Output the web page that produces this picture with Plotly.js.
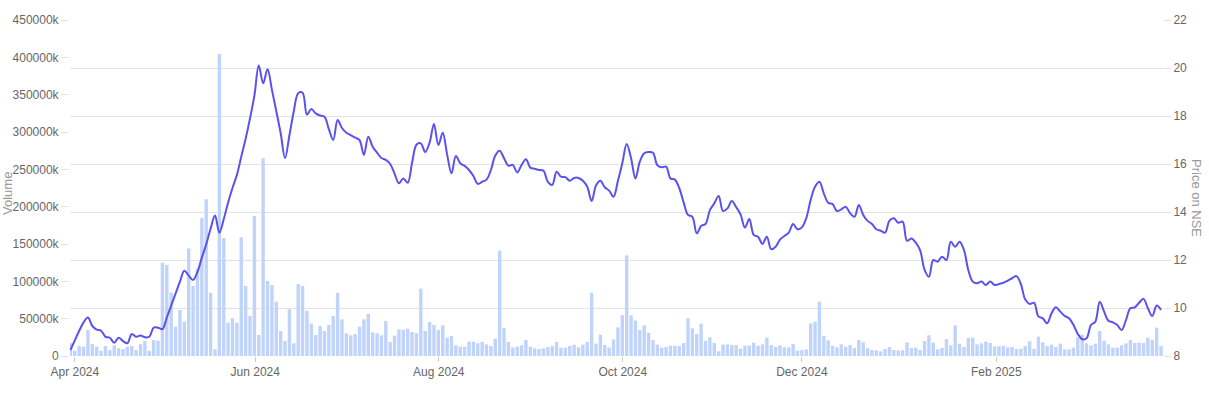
<!DOCTYPE html>
<html><head><meta charset="utf-8">
<script src="https://cdn.plot.ly/plotly-3.0.1.min.js"></script>
<style>html,body{margin:0;padding:0;background:#fff}#chart{width:1209px;height:394px}</style>
</head><body><div id="chart"></div>
<script>
// Daily trading volume (in thousands) – one value per trading day, Mar 28 2024 .. Mar 28 2025
const volumeK = [
17400, 7000, 13400, 12500, 34800, 16000, 12500, 7000, 13400, 8000,
14300, 10300, 9500, 12500, 13400, 8000, 16000, 20000, 7000, 21400,
20500, 125000, 122000, 84800, 39300, 61600, 46000, 144000, 93800, 117000,
185000, 210000, 84800, 9000, 404500, 158000, 44600, 50500, 44600, 159000,
93800, 53600, 187500, 28100, 264700, 100400, 95000, 72700, 33500, 20000,
62500, 17000, 96400, 93800, 60700, 43300, 28100, 40200, 33500, 41500,
53600, 84800, 49100, 30400, 27700, 29500, 39300, 49100, 56300, 31700,
30400, 27700, 46900, 18800, 27200, 35700, 35000, 36600, 32100, 30400,
90200, 33500, 45500, 41500, 35000, 41100, 24600, 26800, 14300, 12500,
12500, 19200, 19200, 17000, 18800, 15600, 13400, 23200, 141000, 37500,
18800, 11600, 12500, 14300, 21400, 12500, 10300, 9400, 10300, 12000,
13400, 18800, 11200, 11200, 13400, 15200, 11600, 15200, 18800, 84800,
16600, 28600, 14700, 11200, 22300, 38400, 54900, 134800, 54500, 47300,
34800, 41100, 31200, 21400, 15200, 11200, 12000, 13800, 13800, 13400,
17400, 50500, 37100, 29500, 43300, 20500, 25000, 17400, 6300, 15200,
15600, 14700, 14700, 9800, 13800, 13800, 17900, 13800, 15600, 24600,
14700, 12500, 14300, 11600, 11600, 16000, 7100, 8000, 8900, 43700,
46000, 72800, 26800, 21000, 13800, 11600, 15600, 12500, 14700, 10700,
21400, 18300, 10300, 8000, 7600, 6300, 9400, 12000, 8000, 7600,
7600, 18300, 10700, 11200, 8000, 20100, 27700, 17900, 8900, 10700,
22800, 14300, 41100, 16500, 12000, 24100, 24600, 15600, 17000, 19200,
17400, 12900, 13000, 13600, 11600, 12000, 9400, 9800, 13400, 19600,
9800, 25900, 18300, 13400, 15200, 12000, 16500, 8900, 8900, 11200,
25000, 28600, 17000, 14300, 16500, 33500, 20500, 15600, 11200, 11200,
14300, 17000, 21400, 17400, 17900, 17400, 24600, 21400, 38000, 13400
];

// Closing price on NSE – one value per trading day
const price = [
8.25, 8.65, 9.05, 9.4, 9.6, 9.25, 9.1, 9.05, 8.8, 8.76,
8.55, 8.76, 8.62, 8.53, 8.92, 8.8, 8.85, 8.78, 8.8, 9.18,
9.18, 9.12, 9.6, 10.1, 10.6, 11.1, 11.55, 11.35, 11.17, 11.5,
12.1, 12.65, 13.3, 13.85, 13.14, 13.7, 14.4, 15.0, 15.54, 16.3,
17.05, 17.9, 18.85, 20.1, 19.36, 19.95, 19.1, 18.2, 17.28, 16.24,
17.2, 18.2, 18.95, 18.97, 18.06, 18.29, 18.11, 18.02, 17.97, 17.45,
17.0, 17.83, 17.5, 17.3, 17.2, 17.1, 17.0, 16.38, 17.14, 16.72,
16.47, 16.25, 16.17, 16.0, 15.6, 15.2, 15.4, 15.22, 16.05, 16.8,
16.86, 16.5, 16.89, 17.67, 16.79, 17.3, 16.4, 15.61, 16.33, 16.03,
15.92, 15.75, 15.5, 15.17, 15.26, 15.35, 15.75, 16.35, 16.55, 16.24,
15.93, 15.96, 15.65, 15.96, 16.2, 15.85, 15.8, 15.75, 15.72, 15.26,
15.13, 15.68, 15.47, 15.45, 15.3, 15.42, 15.42, 15.3, 15.05, 14.46,
15.1, 15.3, 15.03, 14.89, 14.64, 15.3, 16.03, 16.83, 16.24, 15.4,
16.1, 16.45, 16.5, 16.47, 15.95, 15.86, 15.89, 15.4, 15.35, 15.0,
14.4, 13.88, 13.8, 13.11, 13.42, 13.5, 14.08, 14.36, 14.67, 14.04,
14.15, 14.46, 14.2, 13.9, 13.35, 13.71, 13.05, 12.97, 12.67, 12.97,
12.45, 12.55, 12.85, 13.0, 13.14, 13.5, 13.28, 13.36, 13.74, 14.5,
15.05, 15.26, 14.78, 14.39, 14.33, 14.04, 14.11, 14.22, 13.95, 13.8,
14.29, 13.88, 13.63, 13.5, 13.28, 13.22, 13.14, 13.64, 13.74, 13.55,
13.6, 12.8, 12.9, 12.72, 12.4, 11.6, 11.3, 12.0, 11.93, 12.14,
12.0, 12.76, 12.55, 12.76, 12.42, 11.58, 11.1, 11.03, 11.1, 10.96,
11.1, 10.96, 11.0, 11.05, 11.14, 11.24, 11.33, 11.0, 10.35, 10.17,
10.22, 9.65, 9.57, 9.36, 9.78, 10.03, 9.85, 9.67, 9.57, 9.3,
8.92, 8.7, 8.74, 9.29, 9.43, 10.26, 9.85, 9.47, 9.4, 9.29,
9.08, 9.5, 9.99, 10.03, 10.22, 10.38, 9.99, 9.67, 10.1, 9.92
];

// X-axis month labels and the trading-day position where each month begins
const monthLabels = ["Apr 2024", "Jun 2024", "Aug 2024", "Oct 2024", "Dec 2024", "Feb 2025"];
const monthTickIndex = [1, 42.2, 84.1, 126.1, 167, 211.4];

// Volume axis ticks
const volumeTicks = [0, 50000, 100000, 150000, 200000, 250000, 300000, 350000, 400000, 450000];
const volumeTickText = volumeTicks.map(v => v === 0 ? "0" : v + "k");

const dayIndex = volumeK.map((_, i) => i);

const FONT = "Liberation Sans, Arial, Helvetica, sans-serif";
const GRID = "#e3e3e3";

const traces = [
  {
    type: "bar",
    x: dayIndex,
    y: volumeK,
    yaxis: "y",
    marker: { color: "#c0d4fb", line: { width: 0 } },
    hoverinfo: "skip",
    name: "Volume"
  },
  {
    type: "scatter",
    mode: "lines",
    x: dayIndex,
    y: price,
    yaxis: "y2",
    line: { color: "#5a52ee", width: 2, shape: "spline", smoothing: 1 },
    hoverinfo: "skip",
    name: "Price on NSE"
  }
];

const layout = {
  width: 1209,
  height: 394,
  margin: { l: 70, r: 46, t: 20, b: 38, pad: 0 },
  paper_bgcolor: "#ffffff",
  plot_bgcolor: "#ffffff",
  showlegend: false,
  bargap: 0.22,
  font: { family: FONT, size: 12, color: "#666666" },
  xaxis: {
    range: [-0.1, 249.45],
    tickmode: "array",
    tickvals: monthTickIndex,
    ticktext: monthLabels,
    ticks: "outside",
    ticklen: 5,
    tickcolor: "#cccccc",
    showgrid: false,
    zeroline: false,
    showline: false,
    tickfont: { family: FONT, size: 12, color: "#666666" }
  },
  yaxis: {
    range: [0, 450000],
    tickmode: "array",
    tickvals: volumeTicks,
    ticktext: volumeTickText,
    showgrid: false,
    zeroline: false,
    showline: false,
    ticks: "outside",
    ticklen: 8,
    tickcolor: GRID,
    tickfont: { family: FONT, size: 12, color: "#666666" }
  },
  yaxis2: {
    overlaying: "y",
    side: "right",
    range: [8, 22],
    dtick: 2,
    tick0: 8,
    showgrid: true,
    gridcolor: GRID,
    gridwidth: 1,
    zeroline: false,
    showline: false,
    ticks: "outside",
    ticklen: 7,
    tickcolor: GRID,
    tickfont: { family: FONT, size: 12, color: "#666666" }
  },
  annotations: [
    {
      text: "Volume",
      xref: "paper", yref: "paper",
      x: (8 - 70) / 1093, y: (356 - 194) / 336,
      xanchor: "center", yanchor: "middle",
      textangle: -90, showarrow: false,
      font: { family: FONT, size: 13, color: "#999999" }
    },
    {
      text: "Price on NSE",
      xref: "paper", yref: "paper",
      x: (1197 - 70) / 1093, y: (356 - 198) / 336,
      xanchor: "center", yanchor: "middle",
      textangle: 90, showarrow: false,
      font: { family: FONT, size: 13, color: "#999999" }
    }
  ]
};

Plotly.newPlot("chart", traces, layout, { displayModeBar: false, staticPlot: true });
</script>
</body></html>
